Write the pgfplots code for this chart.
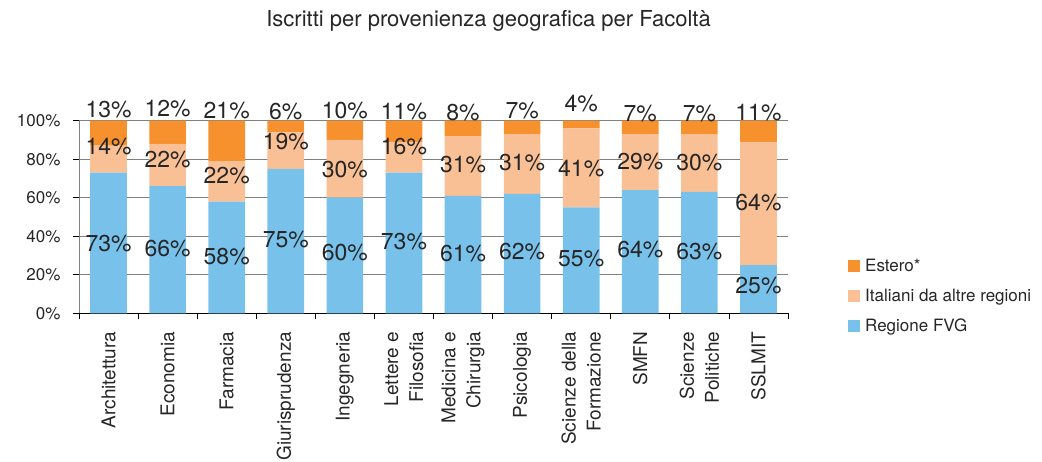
\documentclass[border=0pt]{standalone}
\usepackage{pgfplots}
\usepackage{pgfplotstable}
\pgfplotsset{compat=1.18}
\usepackage{fontspec}
\setmainfont{TeX Gyre Heros}

\definecolor{estero}{HTML}{F6912D}
\definecolor{italiani}{HTML}{F9C096}
\definecolor{fvg}{HTML}{78C1EA}
\definecolor{testo}{HTML}{262626}
\definecolor{griglia}{HTML}{808080}

\pgfplotsset{sqlegend/.style={legend image code/.code={\fill[##1] (0pt,-6pt) rectangle (12pt,6pt);}}}

% share of students per faculty (%)
\pgfplotstableread{
x fvg ita est
0  73 14 13
1  66 22 12
2  58 21 21
3  75 19 6
4  60 30 10
5  73 16 11
6  61 31 8
7  62 31 7
8  55 41 4
9  64 29 7
10 63 30 7
11 25 64 11
}\bars

% data labels as printed (position in %, label)
\pgfplotstableread{
x y lab
0  105.9 13
1  106.4 12
2  105.3 21
3  104.7 6
4  105.5 10
5  104.7 11
6  104.0 8
7  105.0 7
8  109.0 4
9  103.5 7
10 103.5 7
11 104.4 11
0  86.5 14
1  80.0 22
2  71.5 22
3  89.0 19
4  74.8 30
5  86.5 16
6  77.4 31
7  78.2 31
8  75.3 41
9  78.7 29
10 78.4 30
11 57.4 64
0  36.3 73
1  33.7 66
2  29.4 58
3  38.4 75
4  31.5 60
5  37.2 73
6  31.1 61
7  32.0 62
8  28.2 55
9  32.9 64
10 32.0 63
11 14.3 25
}\labels

\begin{document}
\begin{tikzpicture}[text=testo]
\begin{axis}[
    name=main,
    scale only axis, width=709pt, height=192.6pt,
    xmin=-0.5, xmax=11.5, ymin=0, ymax=100,
    ybar stacked, bar width=0.62,
    axis lines*=left,
    x axis line style={black, line width=0.8pt},
    y axis line style={griglia, line width=0.8pt},
    tick align=outside,
    major tick length=6pt, minor tick length=6pt,
    xtick={0,...,11},
    xticklabels={Architettura, Economia, Farmacia, Giurisprudenza, Ingegneria,
        {Lettere e\\Filosofia}, {Medicina e\\Chirurgia}, Psicologia,
        {Scienze della\\Formazione}, SMFN, {Scienze\\Politiche}, SSLMIT},
    major x tick style={draw=none},
    minor xtick={-0.5,0.5,...,11.5},
    minor x tick style={black, line width=0.8pt},
    xticklabel shift=9pt,
    xticklabel style={rotate=90, anchor=east, align=right,
        font=\fontsize{19}{25}\selectfont},
    ytick={0,20,40,60,80,100},
    yticklabels={0\%,20\%,40\%,60\%,80\%,100\%},
    ytick style={black, line width=0.8pt},
    yticklabel shift=9pt,
    yticklabel style={font=\fontsize{17}{20}\selectfont},
    ymajorgrids,
    major grid style={griglia, line width=0.8pt},
    title={Iscritti per provenienza geografica per Facoltà},
    title style={at={(axis description cs:0.5776,1.485)}, anchor=center,
        font=\fontsize{22}{26}\selectfont},
    legend style={at={(axis description cs:1.0846,0.0898)}, anchor=west,
        draw=none, fill=none, inner sep=0pt, row sep=12pt, column sep=3pt,
        font=\fontsize{17}{20}\selectfont},
    legend cell align=left,
    reverse legend,
]
\addplot[fill=fvg, draw=none, sqlegend] table[x=x, y=fvg] {\bars};
\addplot[fill=italiani, draw=none, sqlegend] table[x=x, y=ita] {\bars};
\addplot[fill=estero, draw=none, sqlegend] table[x=x, y=est] {\bars};
\legend{Regione FVG, Italiani da altre regioni, Estero*}
\end{axis}
\begin{axis}[
    scale only axis, width=709pt, height=192.6pt,
    xmin=-0.5, xmax=11.5, ymin=0, ymax=100,
    hide axis, clip=false,
]
\addplot[draw=none, mark=none,
    nodes near coords={\pgfplotspointmeta\%},
    point meta=explicit symbolic,
    nodes near coords style={anchor=center, inner sep=0pt,
        font=\fontsize{23}{27}\selectfont}]
    table[x=x, y=y, meta=lab] {\labels};
\end{axis}
\pgfresetboundingbox
\path (main.south west) ++(-79pt,-148.7pt) rectangle ++(1042pt,462pt);
\end{tikzpicture}
\end{document}
